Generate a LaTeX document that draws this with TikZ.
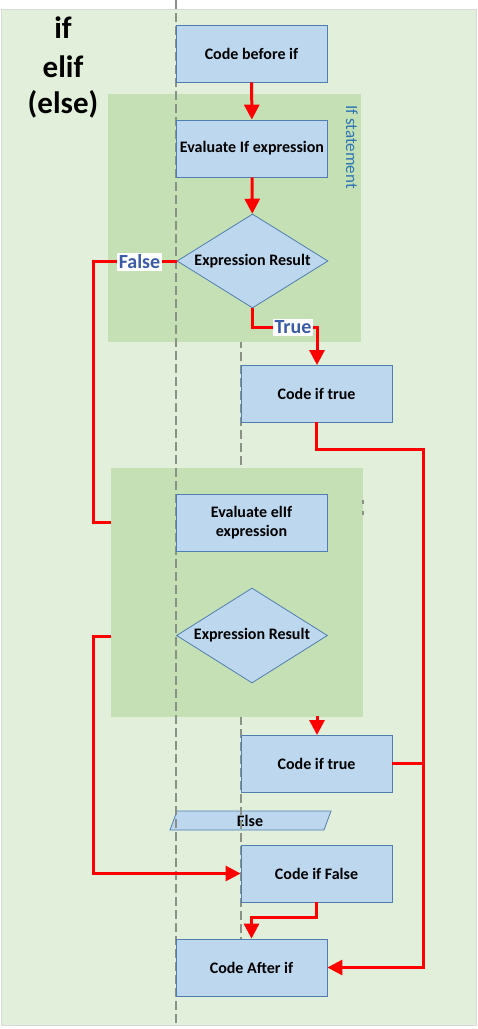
\documentclass[tikz,border=0pt]{standalone}
\usepackage{fontspec}
\setmainfont{Carlito}
\usetikzlibrary{shapes.geometric,arrows.meta}
\definecolor{bggreen}{HTML}{E2EFDA}
\definecolor{panelgreen}{HTML}{C5E0B4}
\definecolor{boxfill}{HTML}{BDD7EE}
\definecolor{boxline}{HTML}{4F7FB0}
\definecolor{lblblue}{HTML}{3A5BA8}
\definecolor{stmtblue}{HTML}{2E75B6}
\definecolor{guidegray}{HTML}{8A9187}
\begin{document}
\begin{tikzpicture}[x=1pt,y=-1pt,
  box/.style={draw=boxline, fill=boxfill, line width=0.8pt, minimum width=151pt, minimum height=57pt, inner sep=0pt, font=\bfseries\fontsize{16}{19}\selectfont, align=center},
  dia/.style={diamond, shape aspect=1.6, draw=boxline, fill=boxfill, line width=0.8pt, minimum width=151pt, minimum height=94pt, inner sep=0pt, font=\bfseries\fontsize{16}{19}\selectfont},
  flow/.style={draw=red, line width=3pt},
  arr/.style={flow, -{Triangle[length=15pt,width=15pt]}},
  lbl/.style={fill=white, text=lblblue, inner sep=1.5pt, font=\bfseries\fontsize{20}{23}\selectfont},
  guide/.style={draw=guidegray, line width=1.2pt, dash pattern=on 9pt off 4pt},
  panel/.style={fill=panelgreen, draw=none},
  title/.style={font=\bfseries\fontsize{31}{36}\selectfont, anchor=base}]
\useasboundingbox (0,0) rectangle (477,1029);
\fill[white] (0,0) rectangle (477,1029);
\fill[bggreen, draw=black!15, line width=0.6pt] (1.5,9) rectangle (476,1025);
% title
\node[title] (t1) at (63,38) {if};
\node[title] (t2) at (63,77) {elif};
\node[title] (t3) at (63,113) {(else)};
% Else parallelogram
\filldraw[fill=boxfill, draw=boxline, line width=0.8pt] (170,830) -- (177,811) -- (331,811) -- (324,830) -- cycle;
\node[font=\bfseries\fontsize{16}{19}\selectfont, inner sep=0pt] (else) at (250,820.5) {Else};
% second guide line, under the panels
\draw[guide] (241,300) -- (241,940);
% panels
\fill[panel] (108,94) rectangle (361,342);
\fill[panel] (111,468) rectangle (363,717);
\node[rotate=-90, text=stmtblue, font=\fontsize{17}{20}\selectfont, inner sep=0pt] (stmt) at (352,147) {If statement};
\draw[guidegray, line width=1.2pt, dash pattern=on 4pt off 7pt] (363,500) -- (363,516);
% first guide line
\draw[guide] (176,0) -- (176,1025);
% boxes
\node[box] (before) at (251.5,53.5) {Code before if};
\node[box] (evalif) at (252,148.5) {Evaluate If expression};
\node[dia] (dia1) at (252.5,261) {Expression Result};
\node[box] (ctrue1) at (316.5,393.5) {Code if true};
\node[box] (evalelif) at (251.5,522.5) {Evaluate elIf\\expression};
\node[dia, minimum height=95pt] (dia2) at (252,635.5) {Expression Result};
\node[box] (ctrue2) at (316.5,763.5) {Code if true};
\node[box] (cfalse) at (316.5,873.5) {Code if False};
\node[box] (after) at (251.5,967.5) {Code After if};
% free ends at panel edges
\coordinate (p2in) at (111,522);
\coordinate (p2out) at (111,636);
\coordinate (p2bot) at (317,716);
% connectors
\draw[arr] (before) -- (evalif);
\draw[arr] (evalif) -- (dia1);
\draw[flow] (dia1.west) -- (93,261) -- (93,522) -- (p2in);
\draw[arr] (dia1.south) -- (252.5,327) -- (317,327) -- (317,365);
\draw[flow] (ctrue1.south) -- (316.5,449) -- (423,449) -- (423,765);
\draw[arr] (423,764) -- (423,967.5) -- (after.east);
\draw[flow] (ctrue2.east) -- (424.5,763.5);
\draw[arr] (p2out) -- (93,636) -- (93,873.5) -- (cfalse.west);
\draw[arr] (p2bot) -- (317,735);
\draw[arr] (cfalse.south) -- (316.5,917) -- (251.5,917) -- (after.north);
% labels on connectors
\node[lbl] (false) at (139.5,262) {False};
\node[lbl] (true) at (293,327.5) {True};
\end{tikzpicture}
\end{document}
